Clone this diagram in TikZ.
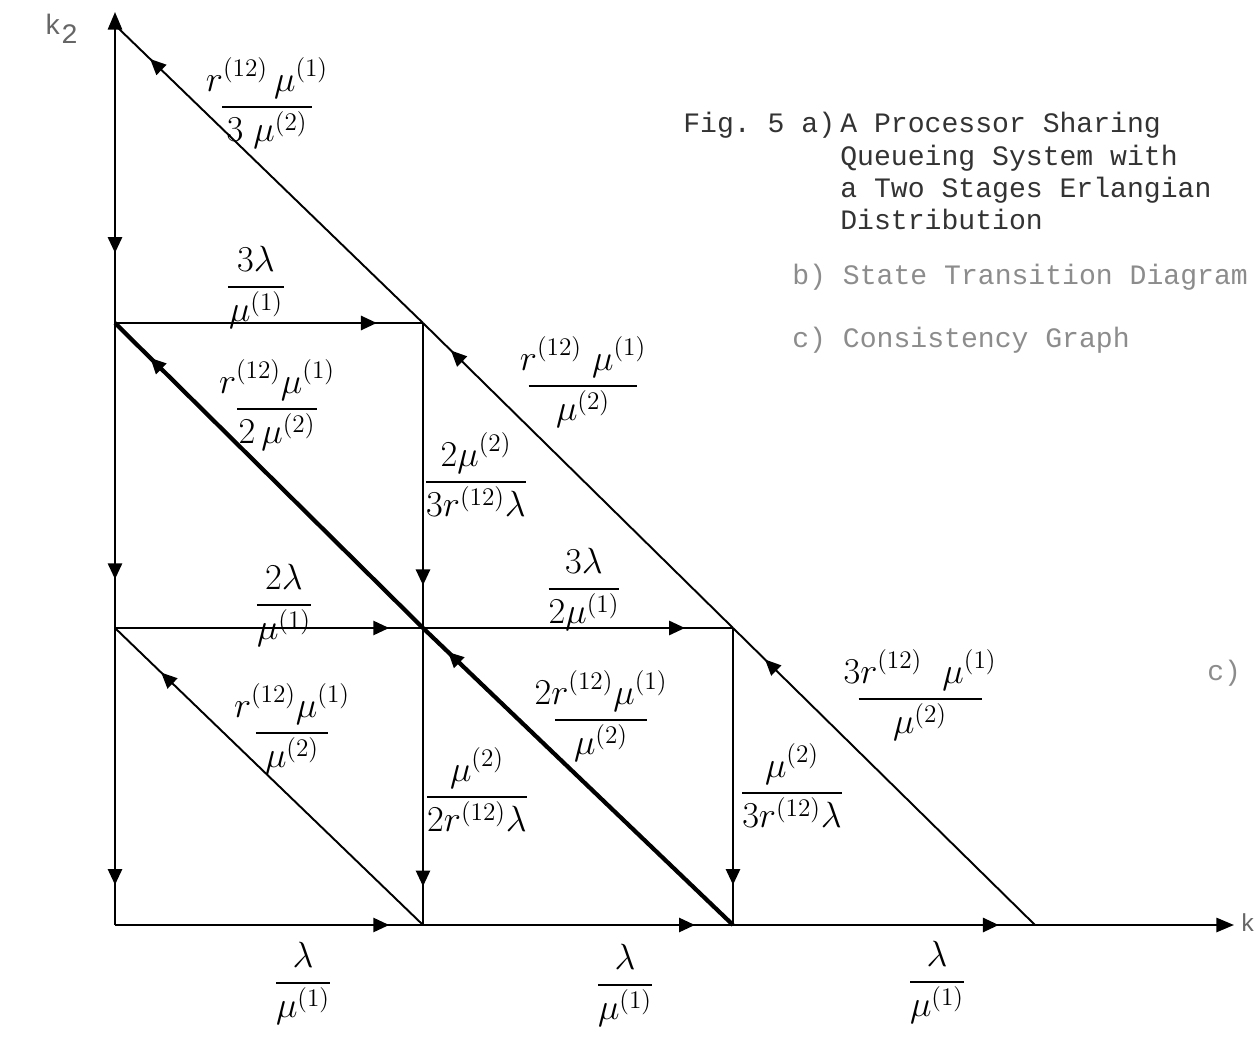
\documentclass[tikz,border=0pt]{standalone}
\usepackage{amsmath}
\usepackage{fontspec}
\setmonofont{Liberation Mono}
\usetikzlibrary{arrows.meta,decorations.markings}
\newcommand{\hfr}[3]{\dfrac{\makebox[#1]{$\displaystyle #2$}}{#3}}
\tikzset{
  tip/.style={postaction={decorate},decoration={markings,mark=at position #1 with {\arrow{Triangle[length=9pt,width=8pt]}}}},
  gridline/.style={line width=1.4pt},
  thindiag/.style={line width=1.1pt},
  thickdiag/.style={line width=2.4pt},
  endtip/.style={-{Triangle[length=10pt,width=8pt]}},
  lab/.style={anchor=base,inner sep=0pt,font=\fontsize{21}{25}\selectfont},
  tw/.style={anchor=base west,inner sep=0pt,font=\ttfamily\fontsize{16}{19}\selectfont,text=black!80},
  twfaint/.style={tw,text=black!45},
}
\begin{document}
\begin{tikzpicture}[x=0.02cm,y=-0.02cm]
\fill[white] (0,0) rectangle (1257,1050);
\useasboundingbox (0,0) rectangle (1257,1050);
% grid points
\coordinate (a0) at (115,925);
\coordinate (a1) at (423,925);
\coordinate (a2) at (733,925);
\coordinate (a3) at (1035,925);
\coordinate (b0) at (115,628);
\coordinate (b1) at (423,628);
\coordinate (b2) at (733,628);
\coordinate (c0) at (115,323);
\coordinate (c1) at (423,323);
\coordinate (d0) at (115,25);
\coordinate (ytop) at (115,12);
\coordinate (xend) at (1234,925);
% axes
\draw[gridline,endtip] (a0) -- (ytop);
\draw[gridline,endtip] (a0) -- (xend);
% horizontal transitions
\draw[gridline,tip=0.85] (c0) -- (c1);
\draw[gridline,tip=0.89] (b0) -- (b1);
\draw[gridline,tip=0.845] (b1) -- (b2);
\draw[gridline,tip=0.89] (a0) -- (a1);
\draw[gridline,tip=0.877] (a1) -- (a2);
\draw[gridline,tip=0.88] (a2) -- (a3);
% vertical transitions
\draw[gridline,tip=0.765] (d0) -- (c0);
\draw[gridline,tip=0.84] (c0) -- (b0);
\draw[gridline,tip=0.865] (b0) -- (a0);
\draw[gridline,tip=0.86] (c1) -- (b1);
\draw[gridline,tip=0.87] (b1) -- (a1);
\draw[gridline,tip=0.865] (b2) -- (a2);
% diagonal transitions
\draw[thindiag,tip=0.894] (a3) -- (b2);
\draw[thindiag,tip=0.91] (b2) -- (c1);
\draw[thindiag,tip=0.886] (c1) -- (d0);
\draw[thickdiag,tip=0.92] (a2) -- (b1);
\draw[thickdiag,tip=0.886] (b1) -- (c0);
\draw[thindiag,tip=0.85] (a1) -- (b0);
% rate labels
\node[lab] (l1) at (267,116) {$\hfr{51pt}{r^{(12)}\,\mu^{(1)}}{3\;\mu^{(2)}}$};
\node[lab] (l2) at (256,296) {$\hfr{32pt}{3\lambda}{\mu^{(1)}}$};
\node[lab] (l3) at (277,418) {$\hfr{45pt}{r^{(12)}\mu^{(1)}}{2\,\mu^{(2)}}$};
\node[lab] (l4) at (476,491) {$\hfr{36pt}{2\mu^{(2)}}{3r^{(12)}\lambda}$};
\node[lab] (l5) at (583,395) {$\hfr{62pt}{r^{(12)}\;\mu^{(1)}}{\mu^{(2)}}$};
\node[lab] (l6) at (284,614) {$\hfr{31pt}{2\lambda}{\mu^{(1)}}$};
\node[lab] (l7) at (584,598) {$\hfr{28pt}{3\lambda}{2\mu^{(1)}}$};
\node[lab] (l8) at (292,742) {$\hfr{41pt}{r^{(12)}\mu^{(1)}}{\mu^{(2)}}$};
\node[lab] (l9) at (601,729) {$\hfr{52pt}{2r^{(12)}\mu^{(1)}}{\mu^{(2)}}$};
\node[lab] (l10) at (477,806) {$\hfr{36pt}{\mu^{(2)}}{2r^{(12)}\lambda}$};
\node[lab] (l11) at (792,802) {$\hfr{42pt}{\mu^{(2)}}{3r^{(12)}\lambda}$};
\node[lab] (l12) at (920,708) {$\hfr{70pt}{3r^{(12)}\;\;\mu^{(1)}}{\mu^{(2)}}$};
\node[lab] (l13) at (303,992) {$\hfr{21pt}{\lambda}{\mu^{(1)}}$};
\node[lab] (l14) at (625,994) {$\hfr{22pt}{\lambda}{\mu^{(1)}}$};
\node[lab] (l15) at (937,991) {$\hfr{22pt}{\lambda}{\mu^{(1)}}$};
% axis labels
\node[twfaint,text=black!60] (k2) at (44,35) {k\raisebox{-0.6ex}{2}};
\node[twfaint,text=black!60,font=\ttfamily\fontsize{14}{16}\selectfont] (k1) at (1240,931) {k};
% caption
\node[tw] (fig) at (683,133) {Fig. 5 a)};
\node[tw] (ca1) at (840,133) {A Processor Sharing};
\node[tw] (ca2) at (840,166) {Queueing System with};
\node[tw] (ca3) at (840,198) {a Two Stages Erlangian};
\node[tw] (ca4) at (840,230) {Distribution};
\node[twfaint] (cb) at (792,285) {b) State Transition Diagram};
\node[twfaint] (cc) at (792,348) {c) Consistency Graph};
\node[twfaint] (cc2) at (1207,680) {c)};
\end{tikzpicture}
\end{document}
